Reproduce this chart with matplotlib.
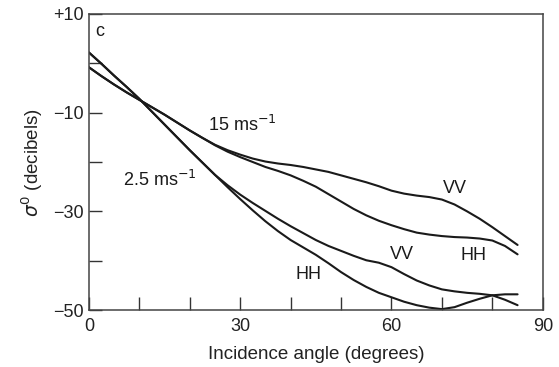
import matplotlib
matplotlib.use("Agg")
import matplotlib.pyplot as plt
from matplotlib.ticker import FixedLocator, FixedFormatter

plt.rcParams['font.family'] = ['Liberation Sans', 'DejaVu Sans']

theta = [0, 2.5, 5, 7.5, 10, 12.5, 15, 17.5, 20, 22.5, 25, 27.5, 30, 32.5, 35, 37.5,
         40, 42.5, 45, 47.5, 50, 52.5, 55, 57.5, 60, 62.5, 65, 67.5, 70, 72.5, 75,
         77.5, 80, 82.5, 85]
vv_15 = [-0.8, -2.6, -4.3, -5.9, -7.4, -8.9, -10.4, -12.0, -13.6, -15.1, -16.5, -17.6,
         -18.5, -19.3, -19.9, -20.3, -20.6, -21.0, -21.5, -22.0, -22.7, -23.4, -24.1,
         -24.9, -25.8, -26.4, -26.8, -27.1, -27.6, -28.6, -30.0, -31.5, -33.2, -35.0, -36.8]
hh_15 = [-0.8, -2.6, -4.3, -5.9, -7.4, -8.9, -10.4, -12.0, -13.6, -15.1, -16.6, -17.9,
         -19.0, -20.0, -21.0, -21.8, -22.7, -23.8, -25.0, -26.5, -28.0, -29.5, -30.8,
         -31.9, -32.8, -33.6, -34.3, -34.7, -35.0, -35.2, -35.3, -35.5, -35.9, -37.0, -38.7]
vv_2p5 = [2.2, -0.1, -2.5, -4.8, -7.2, -9.8, -12.4, -15.0, -17.6, -20.1, -22.6, -24.7,
          -26.6, -28.3, -29.9, -31.5, -33.0, -34.4, -35.8, -37.0, -38.0, -39.0, -39.9,
          -40.4, -41.3, -42.7, -44.0, -45.0, -45.8, -46.2, -46.5, -46.7, -47.0, -47.9, -49.0]
hh_2p5 = [2.2, -0.1, -2.5, -4.8, -7.2, -9.8, -12.4, -15.0, -17.6, -20.1, -22.6, -25.1,
          -27.5, -29.8, -32.0, -34.0, -35.8, -37.3, -38.8, -40.5, -42.3, -43.9, -45.3,
          -46.5, -47.4, -48.3, -49.0, -49.5, -49.8, -49.4, -48.5, -47.7, -47.0, -46.8, -46.8]

x_ticks = [0, 10, 20, 30, 40, 50, 60, 70, 80, 90]
x_labels = ['0', '', '', '30', '', '', '60', '', '', '90']
y_ticks = [10, 0, -10, -20, -30, -40, -50]
y_labels = ['+10', '', '\u221210', '', '\u221230', '', '\u221250']

fig = plt.figure(figsize=(5.59, 3.67), dpi=100)
ax = fig.add_axes([0.159, 0.155, 0.812, 0.807])

for y in (vv_15, hh_15, vv_2p5, hh_2p5):
    ax.plot(theta, y, color='#1a1a1a', lw=1.5, solid_capstyle='round',
            solid_joinstyle='round')

ax.set_xlim(0, 90)
ax.set_ylim(-50, 10)
ax.xaxis.set_major_locator(FixedLocator(x_ticks))
ax.xaxis.set_major_formatter(FixedFormatter(x_labels))
ax.yaxis.set_major_locator(FixedLocator(y_ticks))
ax.yaxis.set_major_formatter(FixedFormatter(y_labels))
ax.tick_params(direction='in', length=9.5, width=1.0, color='#333333',
               labelsize=13, pad=4, labelcolor='#222222')
ax.tick_params(axis='x', pad=5.5)
for s in ax.spines.values():
    s.set_linewidth(1.1)
    s.set_color('#444444')

ax.set_xlabel('Incidence angle (degrees)', fontsize=13.5, labelpad=8, color='#222222')
ax.set_ylabel(r'$\sigma^0$ (decibels)', fontsize=13.5, labelpad=5.5, color='#222222')

tk = dict(fontsize=13, color='#1a1a1a', ha='center', va='center')
ax.text(2.2, 6.5, 'c', **tk)
ax.text(30.5, -12.5, r'15 ms$^{-1}$', **tk)
ax.text(14.0, -23.6, r'2.5 ms$^{-1}$', **tk)
ax.text(72.6, -25.3, 'VV', **tk)
ax.text(76.2, -38.9, 'HH', **tk)
ax.text(62.1, -38.7, 'VV', **tk)
ax.text(43.5, -42.8, 'HH', **tk)

fig.savefig('out.png', dpi=100)
